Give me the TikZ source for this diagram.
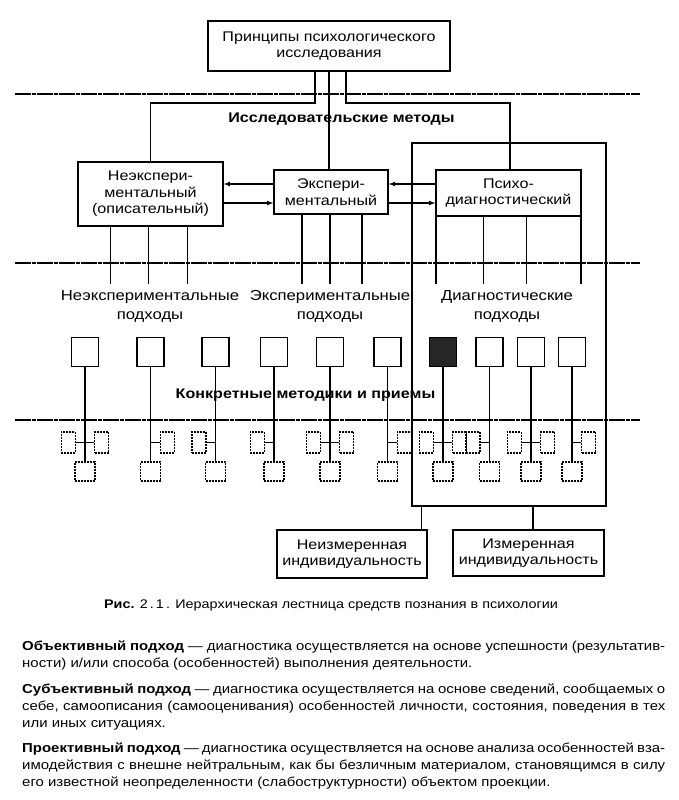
\documentclass[tikz,border=0pt]{standalone}
\usepackage{fontspec}
\setmainfont{Liberation Sans}[FakeStretch=1.15]
\usepackage{tikz}
\usetikzlibrary{positioning, arrows}

\newcommand{\stroka}[1]{\makebox[643pt][s]{#1}}

\begin{document}
\begin{tikzpicture}[
        x=1pt, y=-1pt,
        blok/.style={draw, line width=1.5pt, inner sep=0pt, align=center, font=\fontsize{14}{16.5}\selectfont},
        razdel/.style={line width=1.3pt, dash pattern=on 16pt off 1pt on 4pt off 1pt},
        linija/.style={line width=1.1pt},
        kvadr/.style={draw, line width=1.4pt, minimum width=27pt, minimum height=29pt, inner sep=0pt},
        bok/.style={draw, line width=1.1pt, dash pattern=on 2pt off 1pt, minimum width=14pt, minimum height=21pt, inner sep=0pt},
        nizh/.style={draw, line width=1.1pt, dash pattern=on 2pt off 1pt, minimum width=20pt, minimum height=19pt, inner sep=0pt},
        zagl/.style={font=\bfseries\fontsize{14}{17}\selectfont},
        podpis/.style={align=center, font=\fontsize{14.5}{18.5}\selectfont},
        tekst/.style={anchor=base west, inner sep=0pt, font=\fontsize{13}{16}\selectfont},
    ]
    \useasboundingbox (0,0) rectangle (679,800);

    \draw[razdel] (15,94) -- (640,94);
    \draw[razdel] (15,263) -- (640,263);
    \draw[razdel] (15,420) -- (640,420);

    \node[blok, minimum width=242pt, minimum height=50pt] (princ) at (329,46) {Принципы психологического\\исследования};
    \node[blok, minimum width=145pt, minimum height=64pt] (neexp) at (150.5,194) {Неэкспери-\\ментальный\\(описательный)};
    \node[blok, minimum width=114pt, minimum height=44pt] (exper) at (331,192) {Экспери-\\ментальный};
    \node[blok, minimum width=145pt, minimum height=46pt] (psih) at (508.5,193) {Психо-\\диагностический};
    \node[draw, line width=1.3pt, minimum width=194pt, minimum height=363pt] (ramka) at (509,324.5) {};
    \node[blok, minimum width=150pt, minimum height=48pt] (nezm) at (352,554) {Неизмеренная\\индивидуальность};
    \node[blok, minimum width=151pt, minimum height=46pt] (izm) at (528.5,553) {Измеренная\\индивидуальность};

    \node[zagl] (metody) at (341.5,119) {Исследовательские методы};
    \node[zagl] (priemy) at (305.5,395) {Конкретные методики и приемы};

    \node[podpis] (pneexp) at (150,306.5) {Неэкспериментальные\\подходы};
    \node[podpis] (pexper) at (330,306.5) {Экспериментальные\\подходы};
    \node[podpis] (pdiag) at (507,306.5) {Диагностические\\подходы};

    \coordinate (razv) at (0,103);
    \coordinate (podx) at (0,284);

    \draw[linija] ([xshift=-14pt]princ.south) |- (neexp.north |- razv) -- (neexp.north);
    \draw[linija] (princ.south) -- (princ.south |- exper.north);
    \draw[linija] ([xshift=17pt]princ.south) |- ([xshift=1.5pt]psih.north |- razv) -- ([xshift=1.5pt]psih.north);

    \draw[linija, -latex] ([yshift=8pt]exper.west) -- ([yshift=8pt]exper.west -| neexp.east);
    \draw[linija, -latex] ([yshift=-11pt]exper.west -| neexp.east) -- ([yshift=-11pt]exper.west);
    \draw[linija, -latex] ([yshift=8pt]exper.east -| psih.west) -- ([yshift=8pt]exper.east);
    \draw[linija, -latex] ([yshift=-11pt]exper.east) -- ([yshift=-11pt]exper.east -| psih.west);

    \foreach \dx in {-40,-2,37}
        \draw[linija] ([xshift=\dx pt]neexp.south) -- ([xshift=\dx pt]neexp.south |- podx);
    \foreach \dx in {-29,-1,31}
        \draw[linija] ([xshift=\dx pt]exper.south) -- ([xshift=\dx pt]exper.south |- podx);
    \foreach \dx in {-72.5,-25,18,72.5}
        \draw[linija] ([xshift=\dx pt]psih.south) -- ([xshift=\dx pt]psih.south |- podx);

    \foreach \x/\zal [count=\i] in {85/white, 150.5/white, 215.5/white, 274/white, 330/white,
                                    387.5/white, 443/black!85, 489.5/white, 531/white, 572/white} {
        \node[kvadr, fill=\zal] (kv\i) at (\x,352) {};
        \node[nizh] (nz\i) at (\x,471.5) {};
        \draw[linija] (kv\i) -- (nz\i);
        \coordinate (uz\i) at (\x,442.5);
    }
    \foreach \i in {1,3,4,5,7,8,9} {
        \node[bok, left=9pt of uz\i] (lv\i) {};
        \draw[linija] (lv\i) -- (uz\i);
    }
    \foreach \i in {1,2,5,6,7,9,10} {
        \node[bok, right=9pt of uz\i] (pv\i) {};
        \draw[linija] (uz\i) -- (pv\i);
    }

    \draw[linija] ([xshift=-6pt]nezm.north east |- ramka.south) -- ([xshift=-6pt]nezm.north east);
    \draw[linija] ([xshift=4.5pt]izm.north |- ramka.south) -- ([xshift=4.5pt]izm.north);

    \node[font=\fontsize{12.5}{15}\selectfont] (ris) at (331,605) {\textbf{Рис.} 2\,.\,1\,. Иерархическая лестница средств познания в психологии};

    \node[tekst] (o1) at (22,650) {\stroka{\textbf{Объективный подход} — диагностика осуществляется на основе успешности (результатив-}};
    \node[tekst] (o2) at (22,667) {ности) и/или способа (особенностей) выполнения деятельности.};
    \node[tekst] (s1) at (22,693) {\stroka{\textbf{Субъективный подход} — диагностика осуществляется на основе сведений, сообщаемых о}};
    \node[tekst] (s2) at (22,710) {\stroka{себе, самоописания (самооценивания) особенностей личности, состояния, поведения в тех}};
    \node[tekst] (s3) at (22,727) {или иных ситуациях.};
    \node[tekst] (p1) at (22,752) {\stroka{\textbf{Проективный подход} — диагностика осуществляется на основе анализа особенностей вза-}};
    \node[tekst] (p2) at (22,769) {\stroka{имодействия с внешне нейтральным, как бы безличным материалом, становящимся в силу}};
    \node[tekst] (p3) at (22,786) {его известной неопределенности (слабоструктурности) объектом проекции.};
\end{tikzpicture}
\end{document}
